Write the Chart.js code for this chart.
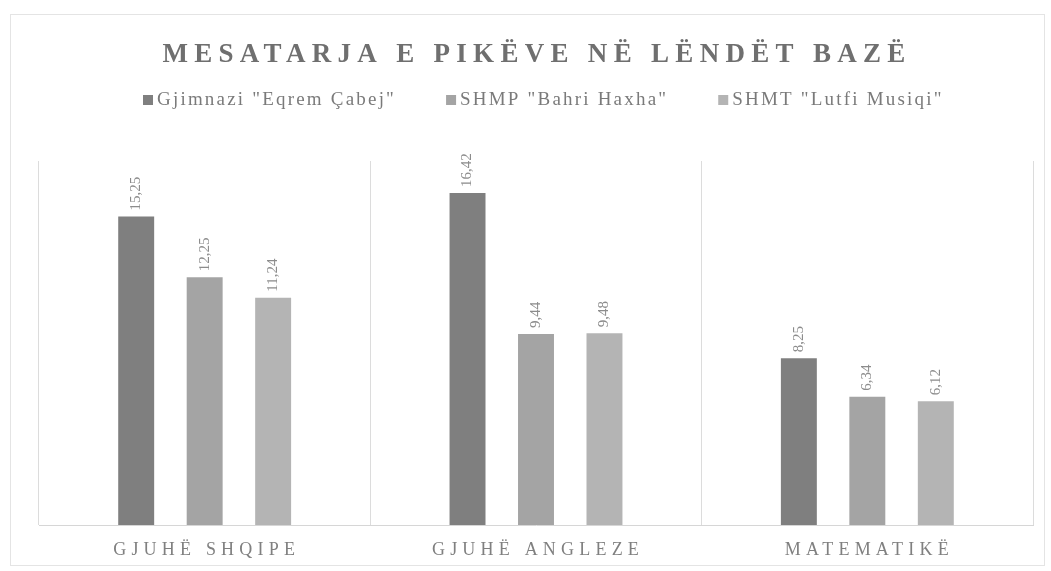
<!DOCTYPE html>
<html>
<head>
<meta charset="utf-8">
<script src="https://cdn.jsdelivr.net/npm/chart.js@4/dist/chart.umd.min.js"></script>
<style>
  body { margin: 0; background: #fff; }
  #wrap { width: 1051px; height: 571px; }
</style>
</head>
<body>
<div id="wrap"><canvas id="chart" width="1051" height="571"></canvas></div>
<script>
// Data
const title = 'MESATARJA E PIKËVE NË LËNDËT BAZË';
const categories = ['GJUHË SHQIPE', 'GJUHË ANGLEZE', 'MATEMATIKË'];
const schools = ['Gjimnazi "Eqrem Çabej"', 'SHMP "Bahri Haxha"', 'SHMT "Lutfi Musiqi"'];
const cabejValues = [15.25, 16.42, 8.25];
const haxhaValues = [12.25, 9.44, 6.34];
const musiqiValues = [11.24, 9.48, 6.12];

const colors = ['#7f7f7f', '#a4a4a4', '#b4b4b4'];
const serif = "'Liberation Serif', 'Times New Roman', serif";

// Title, legend, category labels and value labels (letter-spaced like the scan)
const textPlugin = {
    id: 'texts',
    afterDraw(chart) {
        const ctx = chart.ctx;
        const area = chart.chartArea;

        // outer frame
        ctx.save();
        ctx.strokeStyle = '#e4e4e4';
        ctx.lineWidth = 1;
        ctx.strokeRect(10.5, 14.5, 1034, 551);
        ctx.restore();

        // title
        ctx.save();
        ctx.fillStyle = '#6f6f6f';
        ctx.font = 'bold 27px ' + serif;
        ctx.letterSpacing = '6.3px';
        ctx.textAlign = 'center';
        ctx.textBaseline = 'middle';
        ctx.fillText(title, 537, 55);
        ctx.restore();

        // legend
        ctx.save();
        ctx.font = '19px ' + serif;
        ctx.letterSpacing = '2.2px';
        ctx.textBaseline = 'middle';
        let x = 143;
        chart.data.datasets.forEach((ds, i) => {
            ctx.fillStyle = ds.backgroundColor;
            ctx.fillRect(x, 95, 10, 10);
            ctx.fillStyle = '#7a7a7a';
            ctx.fillText(ds.label, x + 14, 100);
            x += 14 + ctx.measureText(ds.label).width + 50;
        });
        ctx.restore();

        // category labels
        const xScale = chart.scales.x;
        ctx.save();
        ctx.fillStyle = '#808080';
        ctx.font = '18px ' + serif;
        ctx.letterSpacing = '5.2px';
        ctx.textAlign = 'center';
        ctx.textBaseline = 'middle';
        categories.forEach((c, i) => {
            ctx.fillText(c, xScale.getPixelForValue(i) + 2, area.bottom + 25);
        });
        ctx.restore();
    },
    afterDatasetsDraw(chart) {
        const ctx = chart.ctx;
        ctx.save();
        ctx.fillStyle = '#8c8c8c';
        ctx.font = '15px ' + serif;
        ctx.textAlign = 'left';
        ctx.textBaseline = 'middle';
        chart.data.datasets.forEach((ds, i) => {
            chart.getDatasetMeta(i).data.forEach((bar, j) => {
                ctx.save();
                ctx.translate(bar.x, bar.y - 6);
                ctx.rotate(-Math.PI / 2);
                ctx.fillText(ds.data[j].toFixed(2).replace('.', ','), 0, 0);
                ctx.restore();
            });
        });
        ctx.restore();
    }
};

new Chart(document.getElementById('chart'), {
    type: 'bar',
    data: {
        labels: categories,
        datasets: [
            { label: schools[0], data: cabejValues, backgroundColor: colors[0] },
            { label: schools[1], data: haxhaValues, backgroundColor: colors[1] },
            { label: schools[2], data: musiqiValues, backgroundColor: colors[2] }
        ]
    },
    options: {
        responsive: false,
        animation: false,
        categoryPercentage: 0.62,
        barPercentage: 0.525,
        layout: { padding: { left: 39, right: 18, top: 161, bottom: 46 } },
        plugins: {
            legend: { display: false },
            title: { display: false },
            tooltip: { enabled: false }
        },
        scales: {
            x: {
                grid: { color: '#dcdcdc', drawTicks: false },
                border: { color: '#d6d6d6' },
                ticks: { display: false }
            },
            y: {
                display: false,
                min: 0,
                max: 18
            }
        }
    },
    plugins: [textPlugin]
});
</script>
</body>
</html>
